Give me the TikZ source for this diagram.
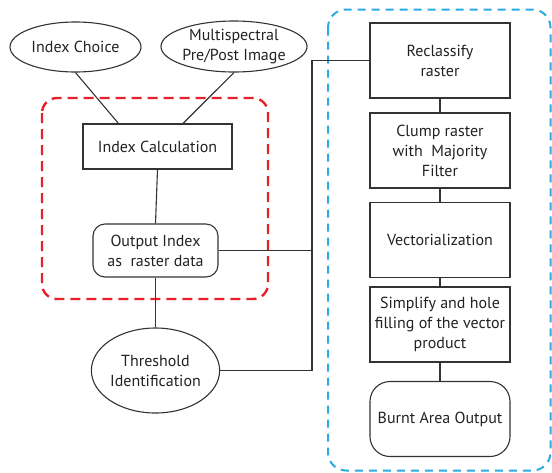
\documentclass[tikz,border=0pt]{standalone}
\usepackage{fontspec}
\setmainfont{PT Sans}
\usetikzlibrary{shapes.geometric,calc}
\definecolor{ln}{HTML}{333333}
\definecolor{txt}{HTML}{222222}
\definecolor{redd}{HTML}{E8202A}
\definecolor{blued}{HTML}{2AABE2}
\begin{document}
\begin{tikzpicture}[x=1pt,y=-1pt,
  every node/.style={font=\fontsize{16}{20}\selectfont, text=txt, align=center, draw=ln, line width=1.1pt, inner sep=0pt},
  ell/.style={ellipse},
  box/.style={rectangle, minimum width=149pt, minimum height=45pt},
  rbox/.style={rectangle, minimum width=140pt, minimum height=75pt},
  conn/.style={draw=ln, line width=1.1pt}]
\useasboundingbox (0,0) rectangle (552,472);
% group frames
\draw[redd, line width=2.4pt, dash pattern=on 10pt off 6pt, rounded corners=15pt] (42,98) rectangle (268,299);
\draw[blued, line width=2pt, dash pattern=on 8pt off 6pt, rounded corners=18pt] (328,9.5) rectangle (550.5,470.5);
% nodes
\node[ell, minimum width=131pt, minimum height=50pt] (ic) at (75.5,47) {Index Choice};
\node[ell, minimum width=130pt, minimum height=51pt] (ms) at (234,46.5) {Multispectral\\Pre/Post Image};
\node[box] (calc) at (157.5,146.5) {Index Calculation};
\node[rectangle, rounded corners=12pt, minimum width=125pt, minimum height=53pt] (out) at (155.5,250.5) {Output Index\\as\ \ raster data};
\node[ell, minimum width=121pt, minimum height=85pt] (thr) at (155.5,370.5) {Threshold\\Identification};
\node[rbox] (rec) at (440,60.5) {Reclassify\\raster};
\node[rbox] (clump) at (440,150.5) {Clump raster\\with\ \ Majority\\Filter};
\node[rbox] (vec) at (440,240) {Vectorialization};
\node[rbox] (simp) at (440,324.5) {Simplify and hole\\filling of the vector\\product};
\node[rbox, rounded corners=20pt] (burnt) at (440,419) {Burnt Area Output};
\coordinate (bus) at (312,65);
% connectors
\draw[conn] (ic.south) -- ($(calc.north west)!0.24!(calc.north east)$);
\draw[conn] (ms.south) -- ($(calc.north west)!0.67!(calc.north east)$);
\draw[conn] (calc.south) -- (out.north);
\draw[conn] (out.south) -- (thr.north);
\draw[conn] (out.east) -- (out.east -| bus);
\draw[conn] (thr.east) -- (thr.east -| bus) -- (bus |- rec.west) -- (rec.west);
\draw[conn] (rec.south) -- (clump.north);
\draw[conn] (clump.south) -- (vec.north);
\draw[conn] (vec.south) -- (simp.north);
\draw[conn] (simp.south) -- (burnt.north);
\end{tikzpicture}
\end{document}
